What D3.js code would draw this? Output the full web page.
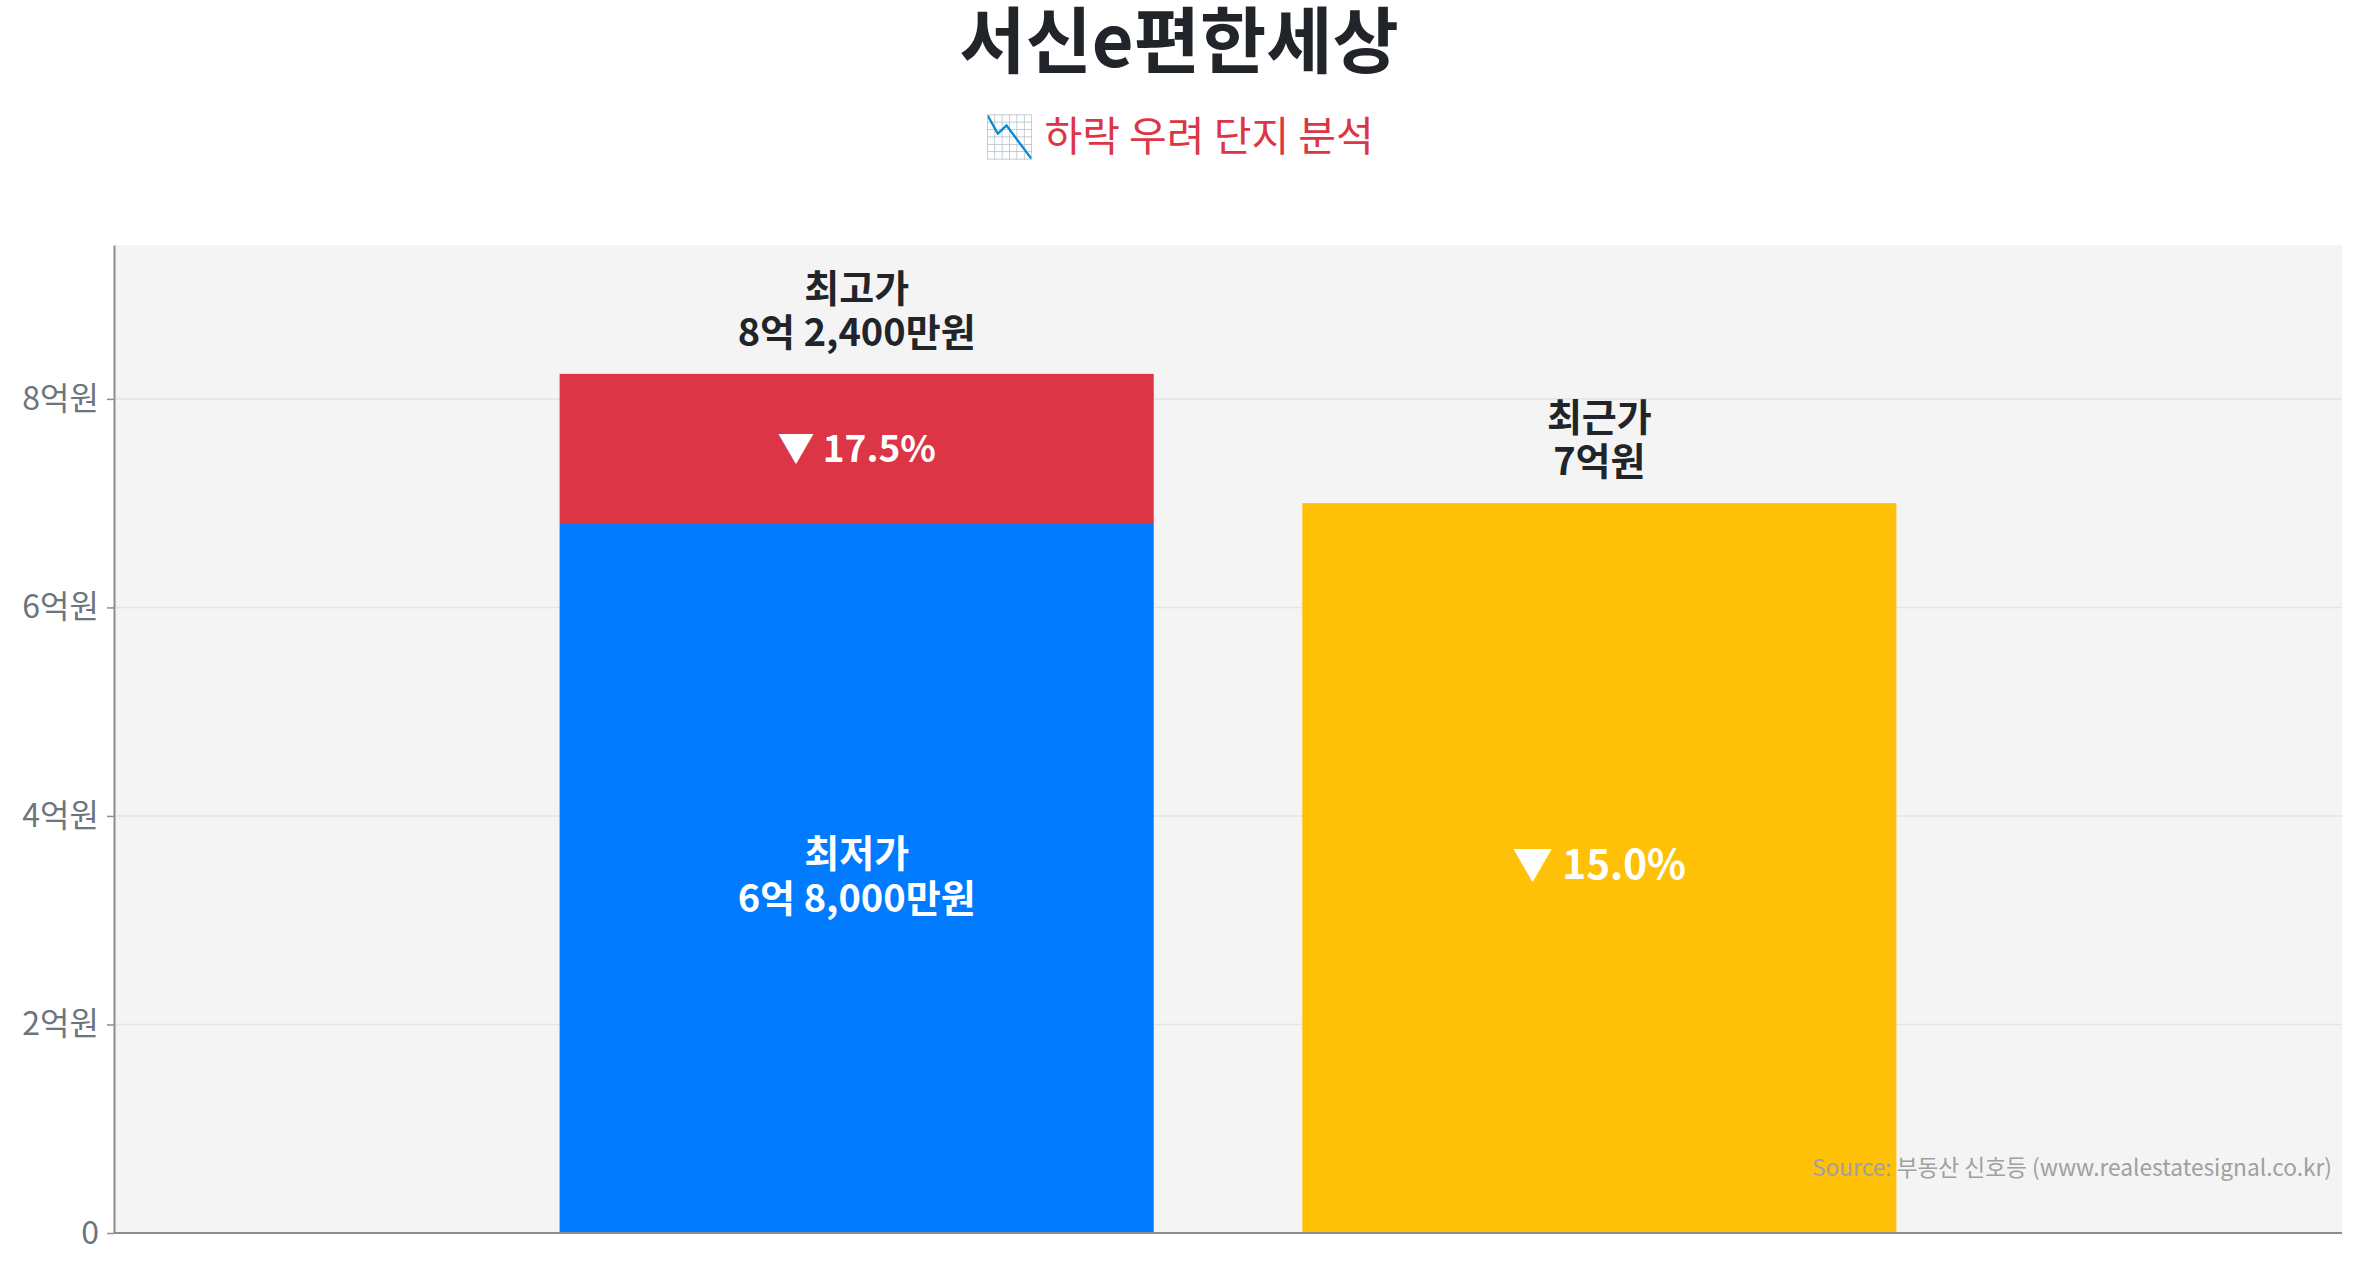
<!DOCTYPE html>
<html>
<head>
<meta charset="utf-8">
<script src="https://cdn.jsdelivr.net/npm/d3@7"></script>
<style>
  html, body { margin: 0; padding: 0; background: #fff; }
  svg { display: block; font-family: "Noto Sans CJK KR", "Noto Sans", sans-serif; }
</style>
</head>
<body>
<svg id="chart"></svg>
<script>
// values in 억원
const barNames = ["최고가/최저가", "최근가"];
const lowValues = [6.8, 7.0];
const highValues = [8.24, null];
const yTicks = [0, 2, 4, 6, 8];
const topLabels = [["최고가", "8억 2,400만원"], ["최근가", "7억원"]];
const innerLabels = [["최저가", "6억 8,000만원"], ["▼ 15.0%"]];
const dropLabel = "▼ 17.5%";

const width = 2358, height = 1268;
const margin = {top: 245, right: 16, bottom: 35, left: 114};
const innerWidth = width - margin.left - margin.right;
const innerHeight = height - margin.top - margin.bottom;

const svg = d3.select("#chart").attr("width", width).attr("height", height);

// title
svg.append("text")
    .attr("x", width / 2).attr("y", 67)
    .attr("text-anchor", "middle")
    .attr("font-size", 72).attr("font-weight", 700)
    .attr("fill", "#212529")
    .text("서신e편한세상");

svg.append("text")
    .attr("x", width / 2).attr("y", 151)
    .attr("text-anchor", "middle")
    .attr("font-size", 41)
    .attr("fill", "#dc3545")
    .text("📉 하락 우려 단지 분석");

const g = svg.append("g")
    .attr("transform", "translate(" + margin.left + "," + margin.top + ")");

g.append("rect")
    .attr("width", innerWidth).attr("height", innerHeight)
    .attr("fill", "#f4f4f4");

const x = d3.scaleBand()
    .domain(barNames)
    .range([0, innerWidth])
    .paddingInner(0.2)
    .paddingOuter(0.6);

const y = d3.scaleLinear()
    .domain([0, d3.max(highValues) * 1.15])
    .range([innerHeight, 0]);

// grid
g.selectAll(".grid")
    .data(yTicks.filter(d => d > 0))
    .enter().append("line")
    .attr("class", "grid")
    .attr("x1", 0).attr("x2", innerWidth)
    .attr("y1", d => y(d)).attr("y2", d => y(d))
    .attr("stroke", "#e4e4e4").attr("stroke-width", 1.5);

// bars
const barColors = ["#007bff", "#ffc107"];
g.selectAll(".bar")
    .data(barNames)
    .enter().append("rect")
    .attr("class", "bar")
    .attr("x", d => x(d))
    .attr("width", x.bandwidth())
    .attr("y", (d, i) => y(lowValues[i]))
    .attr("height", (d, i) => innerHeight - y(lowValues[i]))
    .attr("fill", (d, i) => barColors[i]);

// red stacked part (high - low)
g.selectAll(".bar-top")
    .data(barNames.filter((d, i) => highValues[i] !== null))
    .enter().append("rect")
    .attr("class", "bar-top")
    .attr("x", d => x(d))
    .attr("width", x.bandwidth())
    .attr("y", d => y(highValues[barNames.indexOf(d)]))
    .attr("height", d => {
        const i = barNames.indexOf(d);
        return y(lowValues[i]) - y(highValues[i]);
    })
    .attr("fill", "#dc3545");

// axes
const yAxis = d3.axisLeft(y)
    .tickValues(yTicks)
    .tickSizeInner(7)
    .tickSizeOuter(0)
    .tickPadding(8)
    .tickFormat(d => d === 0 ? "0" : d + "억원");

const ya = g.append("g").call(yAxis);
ya.select(".domain").attr("stroke", "#868e96").attr("stroke-width", 2);
ya.selectAll(".tick line").attr("stroke", "#868e96").attr("stroke-width", 1.5);
ya.selectAll(".tick text")
    .attr("font-size", 32).attr("fill", "#6c757d")
    .attr("font-family", "\"Noto Sans CJK KR\", sans-serif");

g.append("line")
    .attr("x1", 0).attr("x2", innerWidth)
    .attr("y1", innerHeight).attr("y2", innerHeight)
    .attr("stroke", "#868e96").attr("stroke-width", 2);

// labels above bars
barNames.forEach((name, i) => {
    const cx = x(name) + x.bandwidth() / 2;
    const top = highValues[i] !== null ? highValues[i] : lowValues[i];
    const t = g.append("text")
        .attr("text-anchor", "middle")
        .attr("font-size", 38).attr("font-weight", 700)
        .attr("fill", "#212529");
    t.append("tspan").attr("x", cx).attr("y", y(top) - 72).text(topLabels[i][0]);
    t.append("tspan").attr("x", cx).attr("y", y(top) - 28).text(topLabels[i][1]);
});

// drop label inside red part
{
    const cx = x(barNames[0]) + x.bandwidth() / 2;
    const cy = (y(highValues[0]) + y(lowValues[0])) / 2;
    g.append("text")
        .attr("x", cx).attr("y", cy + 13)
        .attr("text-anchor", "middle")
        .attr("font-size", 37).attr("font-weight", 700)
        .attr("fill", "#fff")
        .text(dropLabel);
}

// labels inside the lower bars
barNames.forEach((name, i) => {
    const cx = x(name) + x.bandwidth() / 2;
    const cy = (y(lowValues[i]) + y(0)) / 2;
    const lines = innerLabels[i];
    const t = g.append("text")
        .attr("text-anchor", "middle")
        .attr("font-size", lines.length > 1 ? 38 : 40.5).attr("font-weight", 700)
        .attr("fill", "#fff");
    lines.forEach((s, k) => {
        t.append("tspan")
            .attr("x", cx)
            .attr("y", cy + 11 + (k - (lines.length - 1) / 2) * 45)
            .text(s);
    });
});

// source
g.append("text")
    .attr("x", innerWidth - 10).attr("y", innerHeight - 57)
    .attr("text-anchor", "end")
    .attr("font-size", 22.7)
    .attr("fill", "#a0a0a0")
    .text("Source: 부동산 신호등 (www.realestatesignal.co.kr)");
</script>
</body>
</html>
